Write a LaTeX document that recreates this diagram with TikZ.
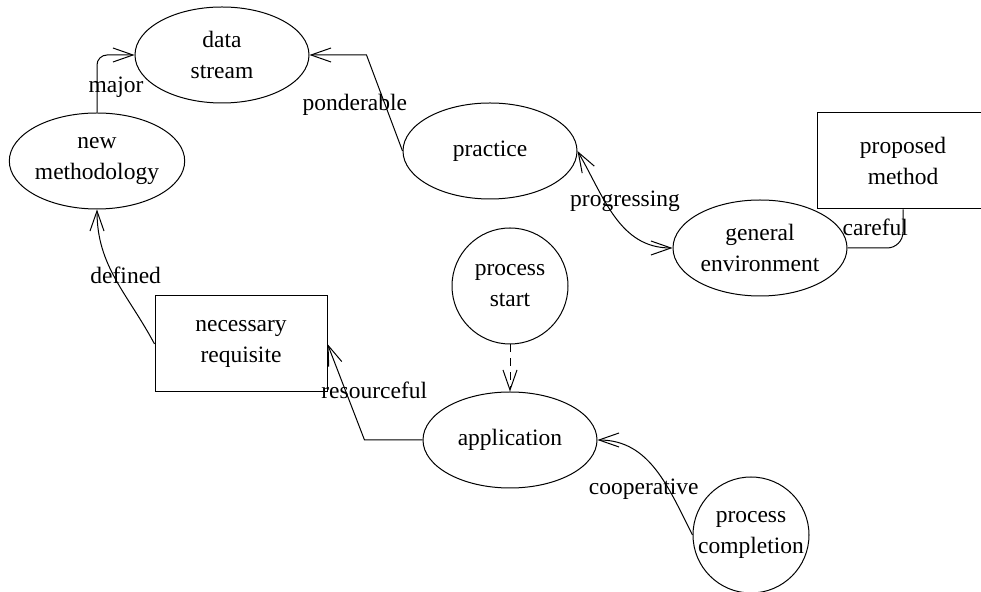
\documentclass[tikz,border=0pt]{standalone}
\usepackage{fontspec}
\setmainfont{Liberation Serif}
\usepackage{tikz}
\usetikzlibrary{shapes.geometric, arrows.meta, positioning}

\begin{document}
\begin{tikzpicture}[x=0.5pt, y=-0.5pt, line width=0.5pt,
    font=\fontsize{11.75}{15.5}\selectfont,
    >={Straight Barb[length=10pt, width=7pt]},
    oval/.style={draw, ellipse, minimum width=87pt, minimum height=48pt, inner sep=0pt, align=center},
    disc/.style={draw, circle, minimum size=58pt, inner sep=0pt, align=center},
    box/.style={draw, rectangle, minimum width=86pt, minimum height=48pt, inner sep=0pt, align=center},
    lbl/.style={inner sep=0pt}]
    \useasboundingbox (0,0) rectangle (981,592);
    % states of the flow
    \node[oval] (ds) at (222,55) {data\\stream};
    \node[oval] (nm) at (97,161) {new\\methodology};
    \node[oval] (pr) at (490,151) {practice};
    \node[box]  (pm) at (903,161) {proposed\\method};
    \node[oval] (ge) at (760,248) {general\\environment};
    \node[disc] (ps) at (510,286) {process\\start};
    \node[box]  (nr) at (241,344) {necessary\\requisite};
    \node[oval] (ap) at (510,440) {application};
    \node[disc] (pc) at (751,535) {process\\completion};
    % transitions
    \draw[->, rounded corners=5pt] (nm.north) |- node[lbl, pos=0.24, xshift=9.5pt, yshift=-1pt] {major} (ds.west);
    \draw[->] (pr.west) -- node[lbl, pos=0.52, xshift=-14.5pt, yshift=-2pt] {ponderable} ([xshift=28.5pt]ds.east) -- (ds.east);
    \draw[<->] (pr.east) to[out=-60, in=180] node[lbl, xshift=5pt, yshift=7.5pt] {progressing} (ge.west);
    \draw[rounded corners=8pt] (ge.east) -| node[lbl, pos=0.25, yshift=10.5pt] {careful} (pm.south);
    \draw[->] (nr.west) to[out=118, in=-90] node[lbl, xshift=5pt, yshift=2pt] {defined} (nm.south);
    \draw[->] (ap.west) -- ([xshift=-29pt]ap.west) -- node[lbl, pos=0.52, xshift=14.5pt] {resourceful} (nr.east);
    \draw[->, dash pattern=on 4pt off 3pt] (ps.south) -- (ap.north);
    \draw[->] (pc.west) to[out=117, in=0] node[lbl, xshift=-6pt, yshift=-9.5pt] {cooperative} (ap.east);
\end{tikzpicture}
\end{document}
